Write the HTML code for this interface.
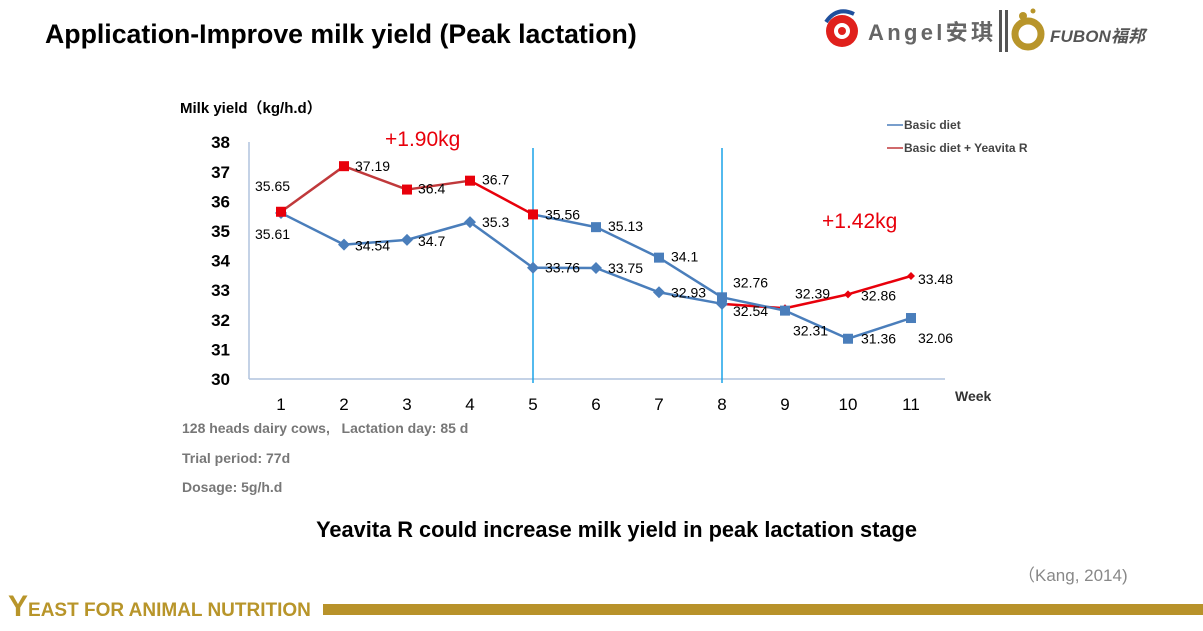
<!DOCTYPE html>
<html><head><meta charset="utf-8"><style>
body{margin:0;width:1203px;height:631px;background:#fff;overflow:hidden;position:relative;font-family:"Liberation Sans","Noto Sans CJK SC",sans-serif}
.abs{position:absolute}
</style></head><body>
<div class="abs" style="left:45px;top:19px;font-size:26.7px;font-weight:bold;color:#000;white-space:nowrap">Application-Improve milk yield (Peak lactation)</div>
<div class="abs" style="left:822px;top:4px;width:330px;height:50px">
<svg width="330" height="50">
<circle cx="20" cy="27" r="16" fill="#e0201c"/><circle cx="20" cy="27" r="8" fill="#fff"/><circle cx="20" cy="27" r="4" fill="#e0201c"/>
<path d="M4 18 Q15 2 32 10" stroke="#1f4f9c" stroke-width="4" fill="none"/>
<text x="46" y="36" font-size="22" font-weight="bold" fill="#666" textLength="125" font-family="Liberation Sans, Noto Sans CJK SC, sans-serif">Angel安琪</text>
<rect x="177" y="6" width="3" height="42" fill="#555"/><rect x="183" y="6" width="3" height="42" fill="#555"/>
<circle cx="206" cy="30" r="13" fill="none" stroke="#b8952a" stroke-width="7"/><circle cx="201" cy="12" r="4" fill="#b8952a"/><circle cx="211" cy="7" r="2.5" fill="#b8952a"/>
<text x="228" y="38" font-size="17" font-style="italic" font-weight="bold" fill="#555" textLength="95" font-family="Liberation Sans, Noto Sans CJK SC, sans-serif">FUBON福邦</text>
</svg></div>

<svg class="abs" style="left:0;top:0" width="1203" height="631" id="chart"></svg>

<div class="abs" style="left:182px;top:420px;font-size:14px;font-weight:bold;color:#777">128 heads dairy cows,&nbsp;&nbsp; Lactation day: 85 d</div>
<div class="abs" style="left:182px;top:450px;font-size:14px;font-weight:bold;color:#777">Trial period: 77d</div>
<div class="abs" style="left:182px;top:479px;font-size:14px;font-weight:bold;color:#777">Dosage: 5g/h.d</div>
<div class="abs" style="left:0;width:1233px;text-align:center;top:517px;font-size:21.8px;font-weight:bold;color:#000">Yeavita R could increase milk yield in peak lactation stage</div>
<div class="abs" style="left:1018px;top:561px;font-size:17px;color:#888;font-family:'Liberation Sans','Noto Sans CJK SC',sans-serif">（Kang, 2014)</div>
<div class="abs" style="left:8px;top:590px;color:#b8952a;font-weight:bold;font-size:19px;white-space:nowrap"><span style="font-size:30px">Y</span>EAST FOR ANIMAL NUTRITION</div>
<div class="abs" style="left:323px;top:604px;width:880px;height:11px;background:#b8922a"></div>

<script>
const weeks=[1,2,3,4,5,6,7,8,9,10,11];
const yTicks=[30,31,32,33,34,35,36,37,38];
const upperSeries=[35.65,37.19,36.4,36.7,35.56,35.13,34.1,32.76,32.31,31.36,32.06];
const lowerSeries=[35.61,34.54,34.7,35.3,33.76,33.75,32.93,32.54,32.39,32.86,33.48];
const upperOff=[[-26,-21],[11,5],[11,4],[12,4],[12,5],[12,4],[12,4],[11,-10],[8,25],[13,5],[7,25]];
const lowerOff=[[-26,26],[11,6],[11,6],[12,5],[12,5],[12,5],[12,5],[11,12],[10,-10],[13,6],[7,8]];
const RED='#e8000b',DRED='#c0393b',BLUE='#4a7ebb';
const X=w=>281+(w-1)*63;
const Y=v=>379-(v-30)*29.6;
const svg=document.getElementById('chart');
const NS='http://www.w3.org/2000/svg';
function mk(t,a){const e=document.createElementNS(NS,t);for(const k in a)e.setAttribute(k,a[k]);svg.appendChild(e);return e;}
let e;
e=mk('line',{x1:249,y1:142,x2:249,y2:379,stroke:'#b0c4de','stroke-width':1.5});


e=mk('line',{x1:249,y1:379,x2:945,y2:379,stroke:'#b0c4de','stroke-width':1.5});


[5,8].forEach(w=>{e=mk('line',{x1:X(w),y1:148,x2:X(w),y2:383,stroke:'#1aa3e8','stroke-width':1.5});

});
yTicks.forEach(v=>{e=mk('text',{x:230,y:Y(v)+6,'text-anchor':'end','font-size':17,'font-weight':'bold',fill:'#000'});e.textContent=v;

});
weeks.forEach(w=>{e=mk('text',{x:X(w),y:410,'text-anchor':'middle','font-size':17,fill:'#000'});e.textContent=w;

});
e=mk('text',{x:955,y:401,'font-size':14,'font-weight':'bold',fill:'#333'});e.textContent='Week';


e=mk('text',{x:180,y:113,'font-size':15,'font-weight':'bold',fill:'#000'});e.textContent='Milk yield（kg/h.d）';


function seg(arr,i,col,name){e=mk('line',{x1:X(weeks[i]),y1:Y(arr[i]),x2:X(weeks[i+1]),y2:Y(arr[i+1]),stroke:col,'stroke-width':2.5});

}
for(let i=0;i<10;i++){seg(lowerSeries,i,i<7?BLUE:RED,'lower-line-segment');}
for(let i=0;i<10;i++){seg(upperSeries,i,i<3?DRED:(i<4?RED:BLUE),'upper-line-segment');}
function diamond(x,y,s,c){e=mk('polygon',{points:`${x},${y-s} ${x+s},${y} ${x},${y+s} ${x-s},${y}`,fill:c});

}
lowerSeries.forEach((v,i)=>{diamond(X(weeks[i]),Y(v),i<8?6:4,i<8?BLUE:RED);});
upperSeries.forEach((v,i)=>{e=mk('rect',{x:X(weeks[i])-5,y:Y(v)-5,width:10,height:10,fill:i<5?RED:BLUE});

});
function labels(arr,off){arr.forEach((v,i)=>{e=mk('text',{x:X(weeks[i])+off[i][0],y:Y(v)+off[i][1],'font-size':14,fill:'#000'});e.textContent=v;

});}
labels(upperSeries,upperOff);labels(lowerSeries,lowerOff);
e=mk('text',{x:385,y:146,'font-size':21,fill:RED});e.textContent='+1.90kg';


e=mk('text',{x:822,y:228,'font-size':21,fill:RED});e.textContent='+1.42kg';


[['Basic diet',BLUE,125],['Basic diet + Yeavita R',DRED,148]].forEach(([t,c,y])=>{
e=mk('line',{x1:887,y1:y,x2:903,y2:y,stroke:c,'stroke-width':1.5});


e=mk('text',{x:904,y:y+4,'font-size':12,'font-weight':'bold',fill:'#444'});e.textContent=t;

});
</script>
</body></html>
